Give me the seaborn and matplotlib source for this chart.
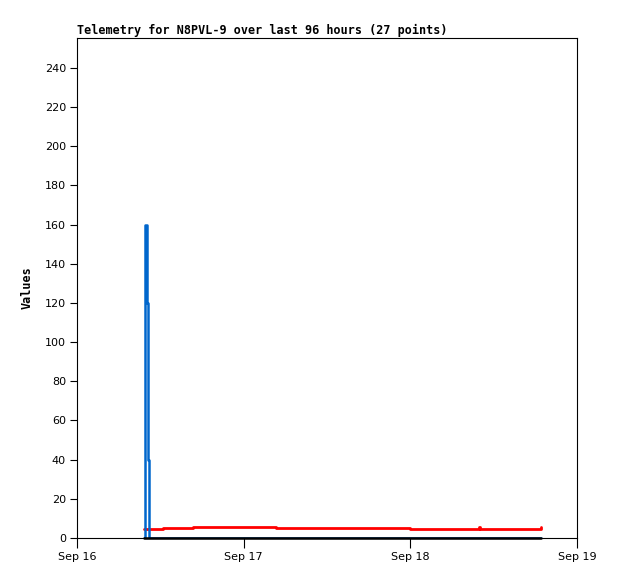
import matplotlib
matplotlib.use("Agg")
import matplotlib.pyplot as plt
import matplotlib.dates as mdates
import pandas as pd
import seaborn as sns

# hours after Sep 16 00:00 for each of the 27 telemetry points
hours = [9.6, 9.8, 10.05, 10.2, 10.35, 11.5, 12.4, 14.0, 16.7, 19.5, 22.0, 25.0, 28.7,
         32.0, 36.5, 41.0, 44.5, 48.0, 51.0, 54.5, 57.9, 58.1, 60.5, 63.0, 65.0, 66.6, 66.8]
blue_vals = [0, 160, 120, 40, 0, 0, 0, 0, 0, 0, 0, 0, 0,
             0, 0, 0, 0, 0, 0, 0, 0, 0, 0, 0, 0, 0, 0]
red_vals = [4.8, 4.8, 4.8, 4.8, 4.8, 4.8, 5.3, 5.3, 5.8, 5.8, 5.8, 5.8, 5.3,
            5.3, 5.3, 5.3, 5.3, 4.8, 4.8, 4.8, 5.5, 4.8, 4.8, 4.8, 4.8, 4.8, 5.8]
black_vals = [0] * 27

start = pd.Timestamp("2020-09-16")
times = [start + pd.Timedelta(hours=h) for h in hours]
df = pd.DataFrame({"time": times, "blue": blue_vals, "red": red_vals, "black": black_vals})

sns.set_style("white")
plt.rcParams["font.family"] = ["DejaVu Sans"]

fig = plt.figure(figsize=(6.18, 5.79), dpi=100)
ax = fig.add_axes([77 / 618, 41 / 579, 500 / 618, 500 / 579])

sns.lineplot(data=df, x="time", y="red", color="#ff0000", linewidth=2,
             drawstyle="steps-post", ax=ax)
sns.lineplot(data=df, x="time", y="blue", color="#0066cc", linewidth=1.8,
             drawstyle="steps-post", ax=ax)
sns.lineplot(data=df, x="time", y="black", color="#000000", linewidth=1.8,
             clip_on=False, ax=ax)

ax.set_xlim(pd.Timestamp("2020-09-16"), pd.Timestamp("2020-09-19"))
ax.set_ylim(0, 255.3)
ax.set_yticks(range(0, 241, 20))
ax.xaxis.set_major_locator(mdates.DayLocator())
ax.xaxis.set_major_formatter(mdates.DateFormatter("%b %d"))

for s in ax.spines.values():
    s.set_color("black")
    s.set_linewidth(0.8)

ax.tick_params(axis="y", direction="out", length=5, width=0.8, labelsize=8, pad=3,
               left=True, colors="black")
ax.tick_params(axis="x", direction="out", length=7, width=0.8, labelsize=8, pad=3,
               bottom=True, colors="black")

ax.set_xlabel("")
ax.set_ylabel("Values", fontsize=8.5, fontweight="bold", family="DejaVu Sans Mono",
              labelpad=8, color="black")
ax.set_title("Telemetry for N8PVL-9 over last 96 hours (27 points)", loc="left",
             fontsize=8.5, fontweight="bold", family="DejaVu Sans Mono", pad=3, color="black")

fig.savefig("out.png", dpi=100)
